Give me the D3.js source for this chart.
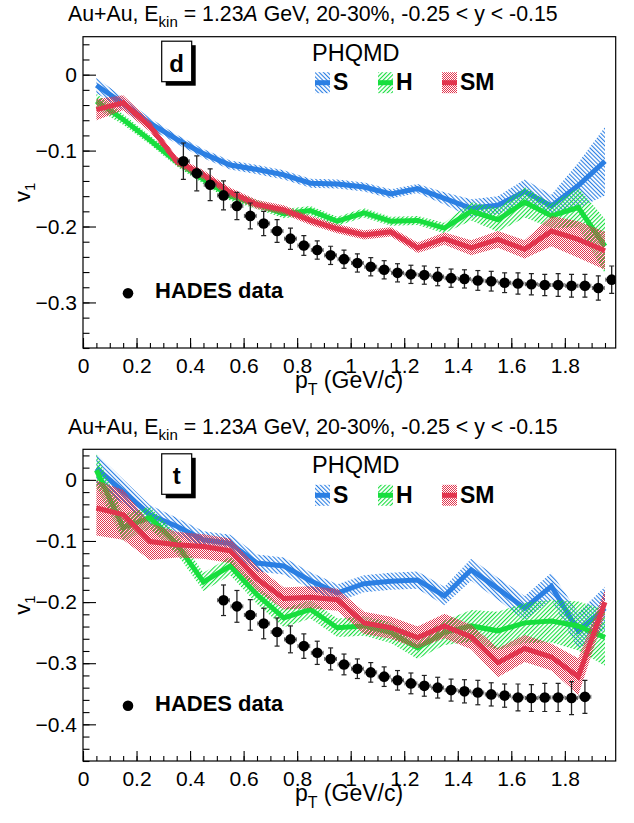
<!DOCTYPE html>
<html>
<head>
<meta charset="utf-8">
<script src="https://cdn.jsdelivr.net/npm/d3@7"></script>
<style>
  body { margin: 0; background: #fff; }
  svg { display: block; }
  text { font-family: "Liberation Sans", Arial, Helvetica, sans-serif; fill: #000; }
</style>
</head>
<body>
<svg id="chart" width="634" height="823"></svg>
<script>
// ---- PHQMD model bins (pT bin centres, GeV/c) ----
const modelPt = [0.05, 0.15, 0.25, 0.35, 0.45, 0.55, 0.65, 0.75, 0.85, 0.95,
                 1.05, 1.15, 1.25, 1.35, 1.45, 1.55, 1.65, 1.75, 1.85, 1.95];

// ---- deuterons (d) ----
const dS  = [-0.014, -0.038, -0.064, -0.085, -0.104, -0.119, -0.125, -0.132, -0.143, -0.144,
             -0.148, -0.157, -0.150, -0.163, -0.176, -0.172, -0.154, -0.173, -0.146, -0.114];
const dSe = [0.010, 0.008, 0.007, 0.006, 0.006, 0.006, 0.006, 0.006, 0.006, 0.006,
             0.006, 0.006, 0.006, 0.008, 0.012, 0.012, 0.016, 0.015, 0.030, 0.045];
const dH  = [-0.035, -0.059, -0.086, -0.115, -0.138, -0.160, -0.171, -0.183, -0.179, -0.193,
             -0.182, -0.193, -0.192, -0.202, -0.180, -0.191, -0.168, -0.186, -0.175, -0.226];
const dHe = [0.010, 0.007, 0.006, 0.006, 0.006, 0.006, 0.006, 0.006, 0.006, 0.006,
             0.006, 0.006, 0.006, 0.007, 0.012, 0.016, 0.020, 0.016, 0.026, 0.036];
const dSM  = [-0.046, -0.037, -0.068, -0.114, -0.132, -0.155, -0.171, -0.178, -0.192, -0.203,
              -0.211, -0.207, -0.228, -0.216, -0.228, -0.217, -0.230, -0.206, -0.217, -0.232];
const dSMe = [0.014, 0.010, 0.007, 0.006, 0.006, 0.006, 0.006, 0.006, 0.006, 0.006,
              0.006, 0.006, 0.007, 0.008, 0.010, 0.011, 0.012, 0.020, 0.024, 0.025];

const dHadesPt = [0.375, 0.425, 0.475, 0.525, 0.575, 0.625, 0.675, 0.725, 0.775, 0.825, 0.875,
                  0.925, 0.975, 1.025, 1.075, 1.125, 1.175, 1.225, 1.275, 1.325, 1.375, 1.425,
                  1.475, 1.525, 1.575, 1.625, 1.675, 1.725, 1.775, 1.825, 1.875, 1.925, 1.975];
const dHadesV1 = [-0.114, -0.130, -0.145, -0.159, -0.173, -0.186, -0.196, -0.206, -0.216, -0.225, -0.231,
                  -0.238, -0.243, -0.248, -0.253, -0.257, -0.261, -0.263, -0.264, -0.266, -0.268, -0.269,
                  -0.271, -0.272, -0.274, -0.275, -0.276, -0.277, -0.277, -0.278, -0.278, -0.281, -0.270];
const dHadesErr = [0.024, 0.023, 0.021, 0.019, 0.018, 0.017, 0.016, 0.015, 0.014, 0.013, 0.012,
                   0.012, 0.012, 0.012, 0.012, 0.012, 0.012, 0.012, 0.012, 0.012, 0.012, 0.012,
                   0.013, 0.013, 0.013, 0.014, 0.014, 0.014, 0.015, 0.015, 0.015, 0.016, 0.018];

// ---- tritons (t) ----
const tS  = [0.019, -0.019, -0.057, -0.076, -0.098, -0.104, -0.136, -0.141, -0.165, -0.185,
             -0.170, -0.166, -0.164, -0.190, -0.147, -0.178, -0.210, -0.174, -0.247, -0.210];
const tSe = [0.024, 0.020, 0.016, 0.014, 0.014, 0.014, 0.014, 0.014, 0.014, 0.014,
             0.014, 0.014, 0.014, 0.015, 0.018, 0.018, 0.020, 0.022, 0.030, 0.035];
const tH  = [0.016, -0.078, -0.062, -0.105, -0.167, -0.141, -0.188, -0.226, -0.212, -0.242,
             -0.239, -0.250, -0.275, -0.250, -0.239, -0.247, -0.234, -0.231, -0.239, -0.258];
const tHe = [0.027, 0.022, 0.018, 0.016, 0.015, 0.015, 0.015, 0.015, 0.015, 0.015,
             0.016, 0.017, 0.018, 0.020, 0.026, 0.031, 0.033, 0.035, 0.040, 0.046];
const tSM  = [-0.046, -0.057, -0.101, -0.106, -0.109, -0.116, -0.162, -0.194, -0.192, -0.196,
              -0.234, -0.242, -0.258, -0.239, -0.257, -0.299, -0.276, -0.290, -0.322, -0.200];
const tSMe = [0.045, 0.041, 0.030, 0.021, 0.020, 0.020, 0.020, 0.018, 0.018, 0.018,
              0.018, 0.018, 0.018, 0.020, 0.020, 0.024, 0.022, 0.022, 0.030, 0.020];

const tHadesPt = [0.525, 0.575, 0.625, 0.675, 0.725, 0.775, 0.825, 0.875, 0.925, 0.975,
                  1.025, 1.075, 1.125, 1.175, 1.225, 1.275, 1.325, 1.375, 1.425, 1.475,
                  1.525, 1.575, 1.625, 1.675, 1.725, 1.775, 1.825, 1.875];
const tHadesV1 = [-0.197, -0.207, -0.221, -0.235, -0.249, -0.261, -0.272, -0.283, -0.293, -0.302,
                  -0.309, -0.315, -0.322, -0.328, -0.333, -0.337, -0.340, -0.344, -0.346, -0.348,
                  -0.351, -0.353, -0.356, -0.357, -0.356, -0.356, -0.357, -0.355];
const tHadesErr = [0.025, 0.026, 0.025, 0.025, 0.023, 0.022, 0.020, 0.019, 0.018, 0.017,
                   0.016, 0.016, 0.016, 0.016, 0.017, 0.017, 0.017, 0.018, 0.019, 0.020,
                   0.019, 0.019, 0.022, 0.022, 0.023, 0.023, 0.027, 0.027];

// ---- axis ticks and labels ----
const xMajorTicks = [0, 0.2, 0.4, 0.6, 0.8, 1, 1.2, 1.4, 1.6, 1.8];
const dYMajorTicks = [0, -0.1, -0.2, -0.3];
const tYMajorTicks = [0, -0.1, -0.2, -0.3, -0.4];
const seriesNames = ["S", "H", "SM"];
const seriesColors = ["#2b7fe3", "#17de3e", "#e2354e"];
const seriesPatterns = ["hatchS", "hatchH", "hatchSM"];

const titleParts = ["Au+Au, E", "kin", " = 1.23", "A", " GeV, 20-30%, -0.25 < y < -0.15"];

const svg = d3.select("#chart");
const defs = svg.append("defs");

// hatch fills for the model uncertainty bands
function linePattern(id, color, angle) {
  const p = defs.append("pattern")
    .attr("id", id).attr("patternUnits", "userSpaceOnUse")
    .attr("width", 3).attr("height", 3)
    .attr("patternTransform", `rotate(${angle})`);
  p.append("rect").attr("x", 0).attr("y", 0).attr("width", 1.1).attr("height", 3).attr("fill", color);
}
linePattern("hatchS", seriesColors[0], -45);
linePattern("hatchH", seriesColors[1], 45);
{
  const p = defs.append("pattern")
    .attr("id", "hatchSM").attr("patternUnits", "userSpaceOnUse")
    .attr("width", 2).attr("height", 2);
  p.append("rect").attr("x", 0).attr("y", 0).attr("width", 1).attr("height", 1).attr("fill", seriesColors[2]);
  p.append("rect").attr("x", 1).attr("y", 1).attr("width", 1).attr("height", 1).attr("fill", seriesColors[2]);
}

const xLeft = 83, xRight = 615.7;
const fmt = d3.format(".2~f");

const panels = [
  {
    id: "d", label: "d", top: 36.7, bottom: 348, yDomain: [-0.36, 0.05], yMajor: dYMajorTicks,
    models: [[dS, dSe], [dH, dHe], [dSM, dSMe]],
    hades: [dHadesPt, dHadesV1, dHadesErr]
  },
  {
    id: "t", label: "t", top: 449.3, bottom: 761, yDomain: [-0.46, 0.05], yMajor: tYMajorTicks,
    models: [[tS, tSe], [tH, tHe], [tSM, tSMe]],
    hades: [tHadesPt, tHadesV1, tHadesErr]
  }
];

panels.forEach(cfg => {
  const g = svg.append("g");
  const x = d3.scaleLinear().domain([0, 1.99]).range([xLeft, xRight]);
  const y = d3.scaleLinear().domain(cfg.yDomain).range([cfg.bottom, cfg.top]);
  const top = cfg.top;

  // title
  const title = g.append("text").attr("x", 68).attr("y", top - 15.5).attr("font-size", 21.3);
  title.append("tspan").text(titleParts[0]);
  title.append("tspan").attr("font-size", 15).attr("dy", 6).text(titleParts[1]);
  title.append("tspan").attr("dy", -6).text(titleParts[2]);
  title.append("tspan").attr("font-style", "italic").text(titleParts[3]);
  title.append("tspan").text(titleParts[4]);

  defs.append("clipPath").attr("id", "clip-" + cfg.id)
    .append("rect").attr("x", xLeft).attr("y", cfg.top)
    .attr("width", xRight - xLeft).attr("height", cfg.bottom - cfg.top);

  const plot = g.append("g").attr("clip-path", `url(#clip-${cfg.id})`);

  // model bands and central lines
  cfg.models.forEach(([vals, errs], k) => {
    const rows = modelPt.map((p, i) => ({ p, v: vals[i], e: errs[i] }));
    const area = d3.area().x(d => x(d.p)).y0(d => y(d.v - d.e)).y1(d => y(d.v + d.e));
    const line = d3.line().x(d => x(d.p)).y(d => y(d.v));
    plot.append("path").attr("d", area(rows)).attr("fill", `url(#${seriesPatterns[k]})`);
    plot.append("path").attr("d", line(rows)).attr("fill", "none")
      .attr("stroke", seriesColors[k]).attr("stroke-width", 5).attr("stroke-linejoin", "miter");
  });

  // HADES data points
  const [hp, hv, he] = cfg.hades;
  const pts = hp.map((p, i) => ({ p, v: hv[i], e: he[i] }));
  const hx = 0.022;
  const eb = plot.append("g");
  pts.forEach(d => {
    const cx = x(d.p), cy = y(d.v);
    // horizontal bin width
    eb.append("line").attr("x1", x(d.p - hx)).attr("x2", x(d.p + hx)).attr("y1", cy).attr("y2", cy)
      .attr("stroke", "#555").attr("stroke-width", 1.2);
    [d.p - hx, d.p + hx].forEach(q => eb.append("line").attr("x1", x(q)).attr("x2", x(q))
      .attr("y1", cy - 2).attr("y2", cy + 2).attr("stroke", "#555").attr("stroke-width", 1));
    // vertical error
    const y1 = y(d.v - d.e), y2 = y(d.v + d.e);
    eb.append("line").attr("x1", cx).attr("x2", cx).attr("y1", y1).attr("y2", y2)
      .attr("stroke", "#222").attr("stroke-width", 1.3);
    [y1, y2].forEach(yy => eb.append("line").attr("x1", cx - 2.5).attr("x2", cx + 2.5)
      .attr("y1", yy).attr("y2", yy).attr("stroke", "#222").attr("stroke-width", 1.2));
  });
  plot.append("g").selectAll("circle").data(pts).join("circle")
    .attr("cx", d => x(d.p)).attr("cy", d => y(d.v)).attr("r", 5.3).attr("fill", "#000");

  // frame
  g.append("rect").attr("x", xLeft).attr("y", cfg.top)
    .attr("width", xRight - xLeft).attr("height", cfg.bottom - cfg.top)
    .attr("fill", "none").attr("stroke", "#000").attr("stroke-width", 1.2);

  // axes: ticks point into the frame
  const yMinor = d3.range(Math.ceil(cfg.yDomain[0] / 0.02), Math.floor(cfg.yDomain[1] / 0.02) + 1)
    .map(k => +(k * 0.02).toFixed(2));
  const xMinor = d3.range(0, 40).map(k => +(k * 0.05).toFixed(2));

  const yMinAxis = g.append("g").attr("transform", `translate(${xLeft},0)`)
    .call(d3.axisLeft(y).tickValues(yMinor).tickSize(-6.5).tickFormat(""));
  const yMajAxis = g.append("g").attr("transform", `translate(${xLeft},0)`)
    .call(d3.axisLeft(y).tickValues(cfg.yMajor).tickSize(-13).tickPadding(6).tickFormat(fmt));
  const xMinAxis = g.append("g").attr("transform", `translate(0,${cfg.bottom})`)
    .call(d3.axisBottom(x).tickValues(xMinor).tickSize(-5).tickFormat(""));
  const xMajAxis = g.append("g").attr("transform", `translate(0,${cfg.bottom})`)
    .call(d3.axisBottom(x).tickValues(xMajorTicks).tickSize(-10).tickPadding(8).tickFormat(fmt));
  [yMinAxis, yMajAxis, xMinAxis, xMajAxis].forEach(a => {
    a.select(".domain").remove();
    a.selectAll("line").attr("stroke", "#000").attr("stroke-width", 1.1);
    a.selectAll("text").attr("font-size", 21).attr("fill", "#000")
      .attr("font-family", "Liberation Sans, Arial, sans-serif");
  });
  xMajAxis.selectAll("text").attr("dy", null).attr("y", 24.5).attr("dominant-baseline", "auto");

  // axis titles
  const yt = g.append("text")
    .attr("transform", `translate(30,${(cfg.top + cfg.bottom) / 2}) rotate(-90)`)
    .attr("text-anchor", "middle").attr("font-size", 22);
  yt.append("tspan").text("v");
  yt.append("tspan").attr("font-size", 15).attr("dy", 5).text("1");

  const xt = g.append("text").attr("x", 349).attr("y", cfg.bottom + 40)
    .attr("text-anchor", "middle").attr("font-size", 23);
  xt.append("tspan").text("p");
  xt.append("tspan").attr("font-size", 16).attr("dy", 7).text("T");
  xt.append("tspan").attr("dy", -7).text(" (GeV/c)");

  // particle label box with shadow
  const bx = 161.7, by = top + 4.5, bw = 30, bh = 40.5;
  g.append("rect").attr("x", bx + 4).attr("y", by + 4).attr("width", bw).attr("height", bh).attr("fill", "#000");
  g.append("rect").attr("x", bx).attr("y", by).attr("width", bw).attr("height", bh)
    .attr("fill", "#fff").attr("stroke", "#000").attr("stroke-width", 1.2);
  g.append("text").attr("x", bx + bw / 2).attr("y", by + 30.5).attr("text-anchor", "middle")
    .attr("font-size", 24).attr("font-weight", "bold").text(cfg.label);

  // legend
  g.append("text").attr("x", 312).attr("y", top + 24).attr("font-size", 23.5).text("PHQMD");
  const legX = [315, 378, 442];
  seriesNames.forEach((name, k) => {
    const sx = legX[k], sy = top + 35.5, sw = 15, sh = 21;
    g.append("rect").attr("x", sx).attr("y", sy).attr("width", sw).attr("height", sh)
      .attr("fill", `url(#${seriesPatterns[k]})`);
    g.append("line").attr("x1", sx).attr("x2", sx + sw).attr("y1", sy + sh / 2).attr("y2", sy + sh / 2)
      .attr("stroke", seriesColors[k]).attr("stroke-width", 5);
    g.append("text").attr("x", sx + 18).attr("y", top + 53.5).attr("font-size", 23)
      .attr("font-weight", "bold").text(name);
  });

  g.append("circle").attr("cx", 128).attr("cy", top + 256.5).attr("r", 5.3).attr("fill", "#000");
  g.append("text").attr("x", 155).attr("y", top + 261.5).attr("font-size", 22)
    .attr("font-weight", "bold").text("HADES data");
});
</script>
</body>
</html>
